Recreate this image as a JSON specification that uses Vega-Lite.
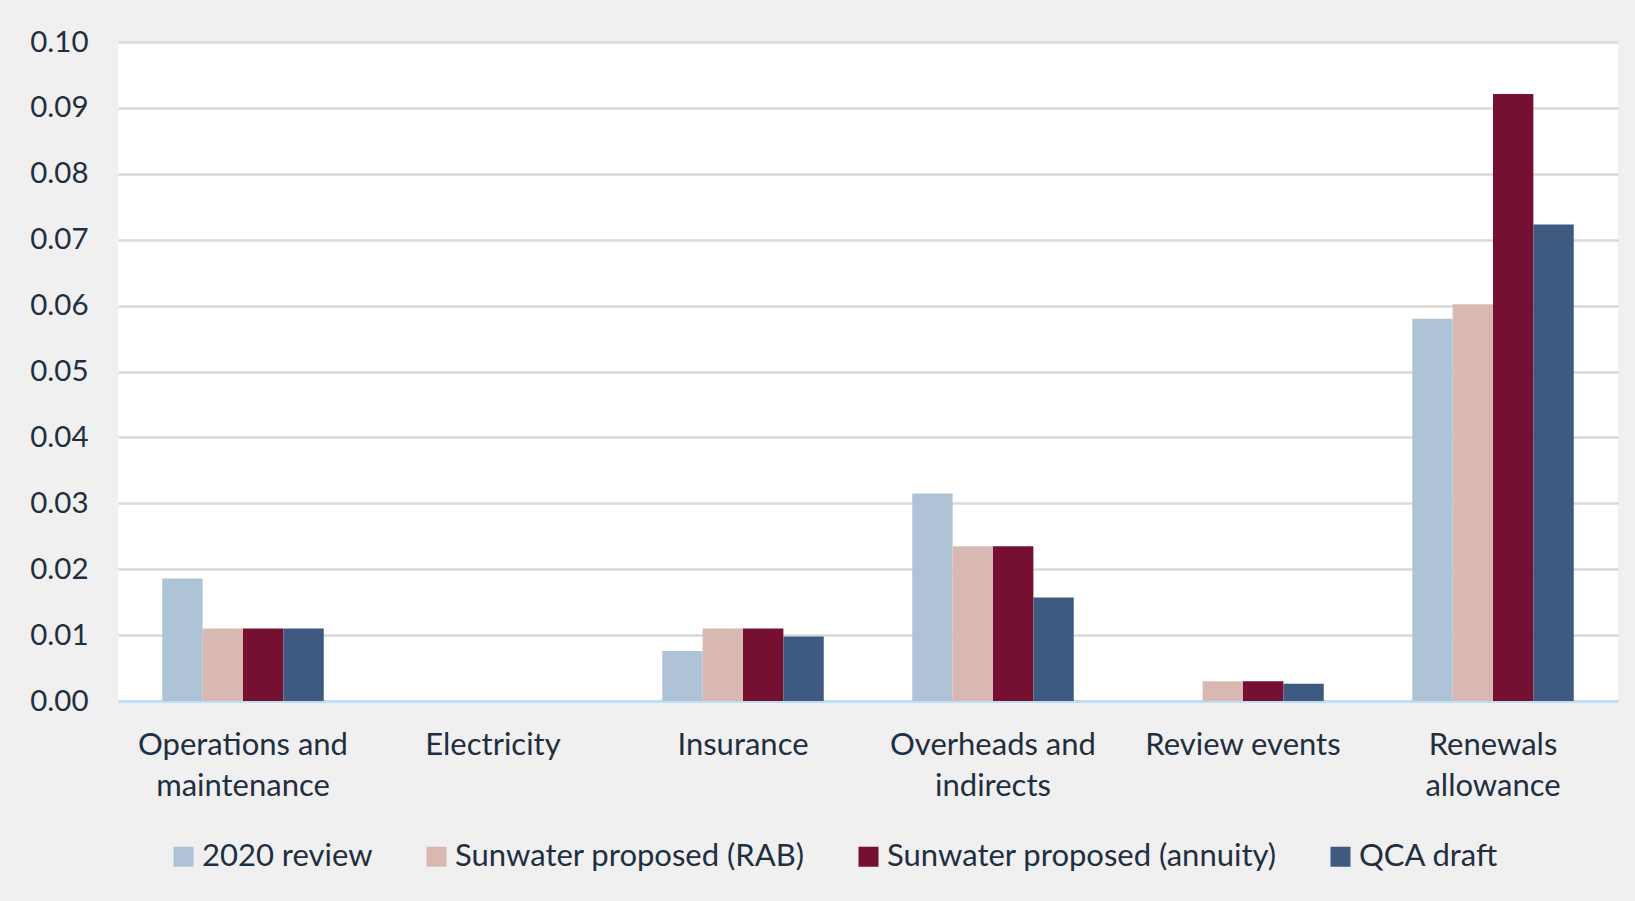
{
  "$schema": "https://vega.github.io/schema/vega-lite/v6.json",
  "autosize": {"type": "none"},
  "width": 1500,
  "height": 659,
  "padding": {"left": 118, "top": 42, "right": 17, "bottom": 200},
  "background": "#F0F0F0",
  "config": {
    "view": {"fill": "#FFFFFF", "stroke": null},
    "font": "Lato"
  },
  "data": {
    "values": [
      {"category": "Operations and maintenance", "series": "2020 review", "value": 0.0186},
      {"category": "Operations and maintenance", "series": "Sunwater proposed (RAB)", "value": 0.0110},
      {"category": "Operations and maintenance", "series": "Sunwater proposed (annuity)", "value": 0.0110},
      {"category": "Operations and maintenance", "series": "QCA draft", "value": 0.0110},
      {"category": "Electricity", "series": "2020 review", "value": 0},
      {"category": "Electricity", "series": "Sunwater proposed (RAB)", "value": 0},
      {"category": "Electricity", "series": "Sunwater proposed (annuity)", "value": 0},
      {"category": "Electricity", "series": "QCA draft", "value": 0},
      {"category": "Insurance", "series": "2020 review", "value": 0.0076},
      {"category": "Insurance", "series": "Sunwater proposed (RAB)", "value": 0.0110},
      {"category": "Insurance", "series": "Sunwater proposed (annuity)", "value": 0.0110},
      {"category": "Insurance", "series": "QCA draft", "value": 0.0098},
      {"category": "Overheads and indirects", "series": "2020 review", "value": 0.0315},
      {"category": "Overheads and indirects", "series": "Sunwater proposed (RAB)", "value": 0.0235},
      {"category": "Overheads and indirects", "series": "Sunwater proposed (annuity)", "value": 0.0235},
      {"category": "Overheads and indirects", "series": "QCA draft", "value": 0.0157},
      {"category": "Review events", "series": "2020 review", "value": 0},
      {"category": "Review events", "series": "Sunwater proposed (RAB)", "value": 0.0030},
      {"category": "Review events", "series": "Sunwater proposed (annuity)", "value": 0.0030},
      {"category": "Review events", "series": "QCA draft", "value": 0.0026},
      {"category": "Renewals allowance", "series": "2020 review", "value": 0.0580},
      {"category": "Renewals allowance", "series": "Sunwater proposed (RAB)", "value": 0.0602},
      {"category": "Renewals allowance", "series": "Sunwater proposed (annuity)", "value": 0.0921},
      {"category": "Renewals allowance", "series": "QCA draft", "value": 0.0723}
    ]
  },
  "mark": {"type": "bar"},
  "encoding": {
    "x": {
      "field": "category",
      "type": "nominal",
      "sort": null,
      "scale": {"paddingInner": 0.354, "paddingOuter": 0.177},
      "axis": {
        "title": null,
        "labelAngle": 0,
        "labelFontSize": 31,
        "labelColor": "#1F2F3F",
        "labelLineHeight": 41,
        "labelBaseline": "top",
        "labelPadding": 29,
        "labelLimit": 400,
        "ticks": false,
        "domainColor": "#BFDDF3",
        "domainWidth": 3,
        "labelExpr": "{'Operations and maintenance': ['Operations and', 'maintenance'], 'Overheads and indirects': ['Overheads and', 'indirects'], 'Renewals allowance': ['Renewals', 'allowance']}[datum.value] || datum.value"
      }
    },
    "xOffset": {
      "field": "series",
      "type": "nominal",
      "sort": ["2020 review", "Sunwater proposed (RAB)", "Sunwater proposed (annuity)", "QCA draft"],
      "scale": {"paddingInner": 0, "paddingOuter": 0}
    },
    "y": {
      "field": "value",
      "type": "quantitative",
      "scale": {"domain": [0, 0.1], "nice": false},
      "axis": {
        "title": null,
        "values": [0, 0.01, 0.02, 0.03, 0.04, 0.05, 0.06, 0.07, 0.08, 0.09, 0.1],
        "format": ".2f",
        "labelFontSize": 29.5,
        "labelColor": "#1F2F3F",
        "labelPadding": 30,
        "ticks": false,
        "domain": false,
        "gridColor": "#D9D9D9",
        "gridWidth": 2.5
      }
    },
    "color": {
      "field": "series",
      "type": "nominal",
      "sort": ["2020 review", "Sunwater proposed (RAB)", "Sunwater proposed (annuity)", "QCA draft"],
      "scale": {
        "domain": ["2020 review", "Sunwater proposed (RAB)", "Sunwater proposed (annuity)", "QCA draft"],
        "range": ["#AFC3D6", "#D9B8B2", "#761033", "#3E5A80"]
      },
      "legend": {
        "title": null,
        "orient": "none",
        "legendX": 50,
        "legendY": 799,
        "direction": "horizontal",
        "columns": 4,
        "columnPadding": 48,
        "symbolType": "square",
        "symbolSize": 400,
        "symbolStrokeWidth": 0,
        "labelFontSize": 31,
        "labelColor": "#1F2F3F",
        "labelOffset": 3,
        "labelLimit": 500
      }
    }
  }
}
